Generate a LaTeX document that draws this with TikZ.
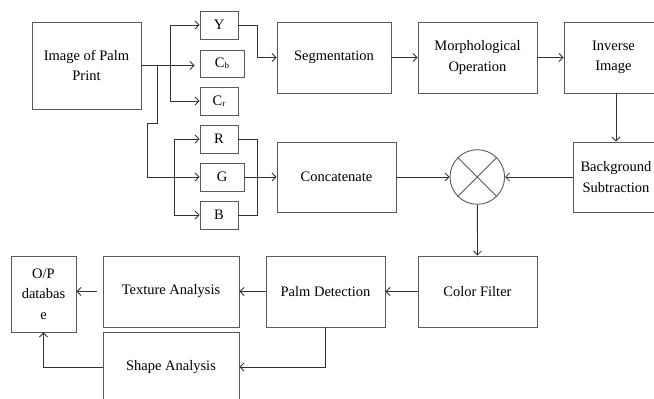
\documentclass[tikz,border=0pt]{standalone}
\usepackage{fontspec}
\setmainfont{Liberation Serif}
\usepackage{tikz}
\usetikzlibrary{calc,arrows.meta,shapes,positioning}

\begin{document}
\begin{tikzpicture}[>={Straight Barb[length=4pt,width=8pt]},x=1pt,y=-1pt,
  box/.style={draw=black!65,line width=0.9pt,rectangle,align=center,inner sep=0pt,font=\fontsize{14.5}{20.5}\selectfont},
  chan/.style={draw=black!65,line width=0.9pt,rectangle,inner sep=0pt,font=\fontsize{14.5}{17}\selectfont},
  wire/.style={draw=black!80,line width=0.8pt}]
\useasboundingbox (0,0) rectangle (654,399);
% input and the colour channels
\node[box,minimum width=109,minimum height=87] (img) at (86.5,65.5) {Image of Palm\\Print};
\node[chan,minimum width=38,minimum height=28] (Y) at (219,25) {Y};
\node[chan,minimum width=44,minimum height=27] (Cb) at (222,63.5) {C\raisebox{-1pt}{\small b}};
\node[chan,minimum width=38,minimum height=28] (Cr) at (219,101) {C\raisebox{-1pt}{\small r}};
\node[chan,minimum width=38,minimum height=28] (R) at (219,139) {R};
\node[chan,minimum width=44,minimum height=28] (G) at (222,177) {G};
\node[chan,minimum width=38,minimum height=28] (B) at (219,215) {B};
% upper chain
\node[box,minimum width=114,minimum height=71] (seg) at (334,57.5) {Segmentation};
\node[box,minimum width=119,minimum height=71] (morph) at (477.5,57.5) {Morphological\\Operation};
\node[box,minimum width=99,minimum height=71] (inv) at (613.5,57.5) {Inverse\\Image};
% middle row
\node[box,minimum width=119,minimum height=70] (cat) at (336.5,177) {Concatenate};
\node[circle,draw=black!65,line width=0.9pt,minimum size=54.6] (mix) at (477.3,177) {};
\draw[black!65,line width=0.9pt] (mix.north west) -- (mix.south east) (mix.north east) -- (mix.south west);
\node[box,minimum width=86,minimum height=70] (bg) at (616,177) {Background\\Subtraction};
% lower rows
\node[box,minimum width=119,minimum height=71] (cf) at (477.5,291.5) {Color Filter};
\node[box,minimum width=119,minimum height=71] (pd) at (325.5,291.5) {Palm Detection};
\node[box,minimum width=136,minimum height=71] (tex) at (171,291.5) {Texture Analysis};
\node[box,minimum width=136,minimum height=70] (shp) at (171,367) {Shape Analysis};
\node[box,minimum width=65,minimum height=76] (db) at (43.5,294) {O/P\\databas\\e};

% splitting the input
\coordinate (ycc) at (170,65.5);
\coordinate (bend) at (157,65.5);
\coordinate (rgb) at (174,177);
\draw[wire,->,shorten >=5pt] (img.east) -- (img.east -| Cb.west);
\draw[wire,->] (ycc) |- (Y.west);
\draw[wire,->] (ycc) |- (Cr.west);
\draw[wire,->] (bend) |- ++(-10,58) |- (G.west);
\draw[wire,->] (rgb) |- (R.west);
\draw[wire,->] (rgb) |- (B.west);
% channels into the chains
\draw[wire,->] (Y.east) -- ++(19,0) |- (seg.west);
\draw[wire] (R.east) -- ++(19,0) |- (B.east);
\draw[wire,->] (G.east) -- (cat.west);
\draw[wire,->] (seg) -- (morph);
\draw[wire,->] (morph) -- (inv);
\draw[wire,->] (bg.north |- inv.south) -- (bg.north);
\draw[wire,->] (cat) -- (mix);
\draw[wire,->] (bg) -- (mix);
\draw[wire,->] (mix) -- (cf);
\draw[wire,->] (cf) -- (pd);
\draw[wire,->] (pd) -- (tex);
\draw[wire,->,shorten <=6pt] (tex.west) -- (tex.west -| db.east);
\draw[wire,->] (pd.south) |- (shp.east);
\draw[wire,->] (shp.west) -| (db.south);
\end{tikzpicture}
\end{document}
